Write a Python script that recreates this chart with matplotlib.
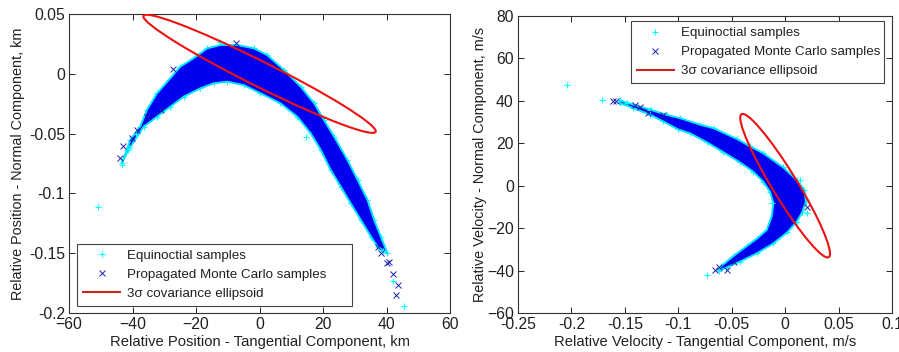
import numpy as np
import matplotlib.pyplot as plt
from matplotlib.patches import Circle
from matplotlib.transforms import Affine2D
from matplotlib.lines import Line2D

plt.rcParams['font.family'] = ['Liberation Sans', 'DejaVu Sans']

# ---- left panel: position (tangential km, normal km) ----
pos_cloud_x = [-43.4, -40.7, -37.6, -35.5, -32.3, -28.6, -25.0, -20.8, -16.5, -12.3, -7.0,
               -1.8, 2.4, 7.7, 13.0, 17.2, 20.3, 23.5, 27.7, 30.9, 34.0, 36.1, 38.2, 40.3,
               37.2, 35.1, 31.9, 28.7, 25.6, 22.4, 19.3, 16.1, 11.9, 6.6, 0.3, -5.0,
               -10.2, -14.4, -18.6, -23.9, -28.1, -32.3, -36.5, -41.3]
pos_cloud_y = [-0.0748, -0.0554, -0.0442, -0.0303, -0.0163, -0.0052, 0.0059, 0.0130, 0.0213,
               0.0241, 0.0241, 0.0213, 0.0157, 0.0032, -0.0108, -0.0247, -0.0386, -0.0526,
               -0.0721, -0.0888, -0.1055, -0.1222, -0.1362, -0.1501,
               -0.1446, -0.1362, -0.1222, -0.1083, -0.0944, -0.0804, -0.0637, -0.0497,
               -0.0359, -0.0247, -0.0163, -0.0094, -0.0066, -0.0079, -0.0121, -0.0191,
               -0.0275, -0.0359, -0.0442, -0.0637]
pos_equi_x = [-50.9, -43.4, -41.2, -38.9, -12.3, 14.5, 38.8, 41.9, 45.6]
pos_equi_y = [-0.111, -0.076, -0.062, -0.050, 0.0268, -0.0526, -0.148, -0.173, -0.194]
pos_mc_x = [-43.9, -43.1, -40.2, -38.6, -35.5, -31.0, -27.4, -7.3, 37.2, 38.2, 40.3, 40.8,
            41.9, 43.5, 42.9]
pos_mc_y = [-0.0707, -0.0604, -0.054, -0.047, -0.036, -0.030, 0.0037, 0.0255, -0.1446,
            -0.150, -0.158, -0.157, -0.167, -0.177, -0.185]
pos_center = [0.0, 0.0]
pos_cov = [[1339.6, -1.757], [-1.757, 0.002441]]   # 3-sigma covariance
pos_xticks = [-60, -40, -20, 0, 20, 40, 60]
pos_yticks = [0.05, 0, -0.05, -0.1, -0.15, -0.2]
pos_yticklabels = ['0.05', '0', '-0.05', '-0.1', '-0.15', '-0.2']

# ---- right panel: velocity (tangential m/s, normal m/s) ----
vel_cloud_x = [-0.155, -0.142, -0.126, -0.111, -0.098, -0.080, -0.067, -0.045, -0.033,
               -0.0205, -0.0017, 0.0108, 0.018, 0.0195, 0.016, 0.0108, 0.002, -0.011,
               -0.0266, -0.0423, -0.055, -0.062,
               -0.060, -0.048, -0.036, -0.0266, -0.0173, -0.0126, -0.011, -0.0142,
               -0.0205, -0.0298, -0.0423, -0.0578, -0.0734, -0.089, -0.100, -0.114,
               -0.1265, -0.142, -0.155]
vel_cloud_y = [40.2, 38.2, 35.8, 33.4, 31.8, 28.8, 27.1, 22.0, 18.6, 15.3, 8.6, 2.7, -2.0,
               -7.5, -12.5, -17.0, -22.0, -27.2, -31.9, -35.8, -38.6, -40.0,
               -38.0, -33.0, -28.5, -25.0, -20.9, -14.6, -8.3, -2.8, 1.9, 6.6, 11.0, 15.8,
               20.5, 24.7, 26.5, 30.3, 33.5, 36.6, 39.0]
vel_equi_x = [-0.2042, -0.1717, -0.148, -0.1265, -0.0734, 0.0201, 0.014, -0.012]
vel_equi_y = [47.3, 40.4, 39.1, 35.7, -42.1, -13.0, 2.5, -8.0]
vel_mc_x = [-0.1608, -0.158, -0.1405, -0.1358, -0.128, -0.114, -0.0657, -0.0547, -0.062,
            -0.048, 0.020]
vel_mc_y = [40.1, 39.8, 38.0, 37.3, 34.1, 33.3, -39.7, -39.7, -38.5, -36.0, -10.0]
vel_center = [0.0, 0.0]
vel_cov = [[0.001764, -1.344], [-1.344, 1145.0]]   # 3-sigma covariance
vel_xticks = [-0.25, -0.2, -0.15, -0.1, -0.05, 0, 0.05, 0.1]
vel_xticklabels = ['-0.25', '-0.2', '-0.15', '-0.1', '-0.05', '0', '0.05', '0.1']
vel_yticks = [80, 60, 40, 20, 0, -20, -40, -60]

labels = ['Equinoctial samples', 'Propagated Monte Carlo samples', '3\u03c3 covariance ellipsoid']
txt = '#202020'


def panel(ax, cx, cy, ex, ey, mx, my, center, cov):
    ax.fill(cx, cy, facecolor='#0000ee', edgecolor='#00e5ff', lw=1.4, zorder=2)
    ax.plot(cx, cy, '+', color='cyan', ms=5, mew=0.8, zorder=1)
    ax.plot(ex, ey, '+', color='cyan', ms=4.5, mew=0.8, zorder=3)
    ax.plot(mx, my, 'x', color='#2020b0', ms=4, mew=0.7, zorder=3)
    L = np.linalg.cholesky(np.array(cov))
    tr = Affine2D(np.array([[L[0, 0], L[0, 1], center[0]],
                            [L[1, 0], L[1, 1], center[1]],
                            [0, 0, 1]]))
    ax.add_patch(Circle((0, 0), 1, fill=False, edgecolor='#ee1111', lw=1.5,
                        transform=tr + ax.transData, zorder=4))
    ax.tick_params(direction='in', top=True, right=True, length=4, width=0.7,
                   labelsize=11.3, colors=txt, pad=3)
    for s in ax.spines.values():
        s.set_color('#333333')
        s.set_linewidth(0.8)


def make_legend(ax, **kw):
    h = [Line2D([], [], ls='none', marker='+', color='cyan', ms=5, mew=0.8),
         Line2D([], [], ls='none', marker='x', color='#2020b0', ms=4, mew=0.7),
         Line2D([], [], color='#cc2222', lw=1.5)]
    lg = ax.legend(h, labels, fancybox=False, framealpha=1, edgecolor='#444444',
                   fontsize=9.6, handlelength=2.8, handletextpad=0.5, labelspacing=0.5,
                   borderpad=0.45, borderaxespad=0, mode='expand', **kw)
    lg.get_frame().set_linewidth(0.8)
    for t in lg.get_texts():
        t.set_color(txt)


fig = plt.figure(figsize=(8.99, 3.52), dpi=100)

ax1 = fig.add_axes([0.0768, 0.1108, 0.4238, 0.8494])
panel(ax1, pos_cloud_x, pos_cloud_y, pos_equi_x, pos_equi_y, pos_mc_x, pos_mc_y,
      pos_center, pos_cov)
ax1.set_xlim(-60, 60)
ax1.set_ylim(-0.2, 0.05)
ax1.set_xticks(pos_xticks)
ax1.set_yticks(pos_yticks)
ax1.set_yticklabels(pos_yticklabels)
ax1.set_xlabel('Relative Position - Tangential Component, km', fontsize=10.6, color=txt)
ax1.set_ylabel('Relative Position - Normal Component, km', fontsize=10.4, color=txt)
ax1.xaxis.set_label_coords(0.5, -0.075)
ax1.yaxis.set_label_coords(-0.116, 0.5)
make_legend(ax1, loc='lower left', bbox_to_anchor=(0.021, 0.023, 0.721, 0.3))

ax2 = fig.add_axes([0.5762, 0.1108, 0.416, 0.8438])
panel(ax2, vel_cloud_x, vel_cloud_y, vel_equi_x, vel_equi_y, vel_mc_x, vel_mc_y,
      vel_center, vel_cov)
ax2.set_xlim(-0.25, 0.1)
ax2.set_ylim(-60, 80)
ax2.set_xticks(vel_xticks)
ax2.set_xticklabels(vel_xticklabels)
ax2.set_yticks(vel_yticks)
ax2.set_xlabel('Relative Velocity - Tangential Component, m/s', fontsize=10.6, color=txt)
ax2.set_ylabel('Relative Velocity - Normal Component, m/s', fontsize=10.4, color=txt)
ax2.xaxis.set_label_coords(0.5, -0.075)
ax2.yaxis.set_label_coords(-0.083, 0.5)
make_legend(ax2, loc='upper left', bbox_to_anchor=(0.301, 0.5, 0.678, 0.483))

fig.savefig('out.png', dpi=100)
